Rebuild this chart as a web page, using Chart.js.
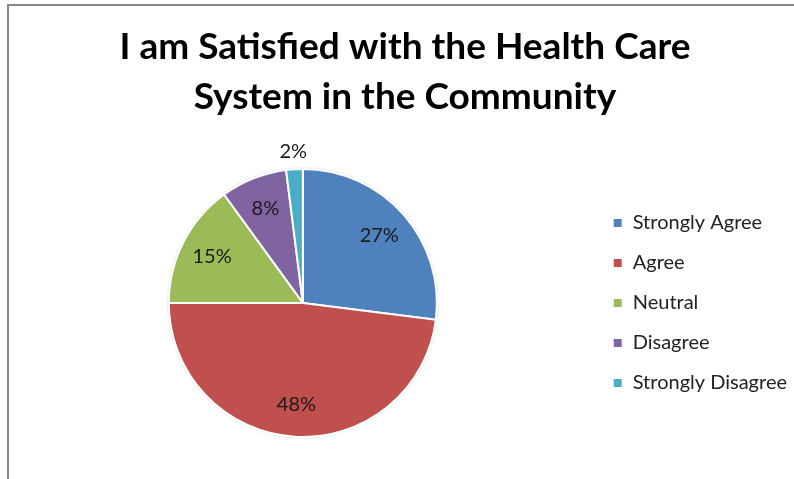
<!DOCTYPE html>
<html>
<head>
<meta charset="utf-8">
<script src="https://cdn.jsdelivr.net/npm/chart.js@4.4.1/dist/chart.umd.min.js"></script>
<style>
  html, body { margin: 0; padding: 0; background: #fff; overflow: hidden; }
  #frame {
    position: absolute; left: 7px; top: 4px; width: 800px; height: 480px;
    border-top: 2px solid #888; border-left: 2px solid #888;
  }
  #wrap { position: absolute; left: 9px; top: 6px; width: 788px; height: 473px; }
</style>
</head>
<body>
<div id="frame"></div>
<div id="wrap"><canvas id="pie"></canvas></div>
<script>
const TITLE = ["I am Satisfied with the Health Care", "System in the Community"];
const LABELS = ["Strongly Agree", "Agree", "Neutral", "Disagree", "Strongly Disagree"];
const VALUES = [27, 48, 15, 8, 2];
const SLICE_COLORS = ["#4F81BD", "#C0504D", "#9BBB59", "#8064A2", "#4BACC6"];

// -------- soft edge under the pie
const pieShadow = {
  id: "pieShadow",
  beforeDatasetsDraw(chart) {
    const arc = chart.getDatasetMeta(0).data[0];
    if (!arc) return;
    const p = arc.getProps(["x", "y", "outerRadius"], true);
    const ctx = chart.ctx;
    ctx.save();
    ctx.shadowColor = "rgba(0,0,0,0.35)";
    ctx.shadowBlur = 3;
    ctx.fillStyle = "#fff";
    ctx.beginPath();
    ctx.arc(p.x, p.y, p.outerRadius, 0, Math.PI * 2);
    ctx.fill();
    ctx.restore();
  },
};

// -------- slice labels (inside, or just outside for tiny slices)
const sliceLabels = {
  id: "sliceLabels",
  afterDatasetsDraw(chart) {
    const ctx = chart.ctx;
    const meta = chart.getDatasetMeta(0);
    ctx.save();
    ctx.font = "20px Lato";
    ctx.fillStyle = "#1a1a1a";
    ctx.textAlign = "center";
    ctx.textBaseline = "middle";
    meta.data.forEach((arc, i) => {
      const p = arc.getProps(["x", "y", "startAngle", "endAngle", "outerRadius"], true);
      const mid = (p.startAngle + p.endAngle) / 2;
      const v = VALUES[i];
      const d = v < 5 ? p.outerRadius + 18 : p.outerRadius * 0.76;
      ctx.fillText(v + "%", p.x + Math.cos(mid) * d, p.y + Math.sin(mid) * d);
    });
    ctx.restore();
  },
};

new Chart(document.getElementById("pie"), {
  type: "pie",
  data: {
    labels: LABELS,
    datasets: [
      {
        data: VALUES,
        backgroundColor: SLICE_COLORS,
        borderColor: "#ffffff",
        borderWidth: 2,
      },
    ],
  },
  options: {
    responsive: true,
    maintainAspectRatio: false,
    animation: false,
    layout: { padding: { bottom: 41, left: 4 } },
    plugins: {
      title: {
        display: true,
        text: TITLE,
        color: "#000",
        font: { family: "Lato", size: 37, weight: "bold", lineHeight: 1.35 },
        padding: { top: 16, bottom: 46 },
      },
      legend: {
        position: "right",
        fullSize: false,
        labels: {
          boxWidth: 10,
          boxHeight: 10,
          padding: 20,
          color: "#222",
          font: { family: "Lato", size: 20, lineHeight: 1.0 },
        },
      },
      tooltip: { enabled: false },
    },
  },
  plugins: [pieShadow, sliceLabels],
});
</script>
</body>
</html>
